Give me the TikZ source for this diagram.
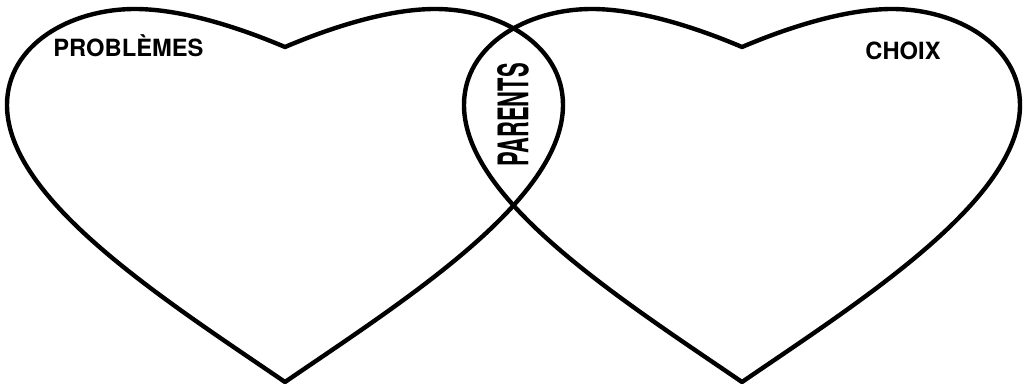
\documentclass[tikz,border=0pt]{standalone}
\usepackage{graphicx}
\usepackage{fontspec}
\setmainfont{TeX Gyre Heros}
\usepackage{tikz}
\usetikzlibrary{positioning}
\tikzset{
  heartline/.style={draw=black, line width=2.5pt, line join=round},
  tagtext/.style={font=\bfseries\fontsize{13.5}{13.5}\selectfont, inner sep=0pt},
  midtext/.style={font=\bfseries\fontsize{24}{24}\selectfont, inner sep=0pt, rotate=90},
  heart/.pic={
    \draw[heartline] (0,382) .. controls (-120,300) and (-278,200) .. (-278,105)
      .. controls (-278,45) and (-215,9) .. (-150,9)
      .. controls (-100,9) and (-40,30) .. (0,47)
      .. controls (40,30) and (100,9) .. (150,9)
      .. controls (215,9) and (278,45) .. (278,105)
      .. controls (278,200) and (120,300) .. (0,382) -- cycle;
  }
}

\begin{document}
\begin{tikzpicture}[x=0.02cm, y=-0.02cm]
  \useasboundingbox (0,0) rectangle (1025,385);

  % two hearts
  \pic (left) at (285,0) {heart};
  \pic (right) at (742,0) {heart};

  % labels
  \node[tagtext, anchor=base west] (problemes) at (53,57) {PROBLÈMES};
  \node[tagtext, anchor=base west] (choix) at (865,60) {CHOIX};
  \node[midtext] (parents) at (513,115) {\scalebox{0.52}[1]{PARENTS}};
\end{tikzpicture}
\end{document}
